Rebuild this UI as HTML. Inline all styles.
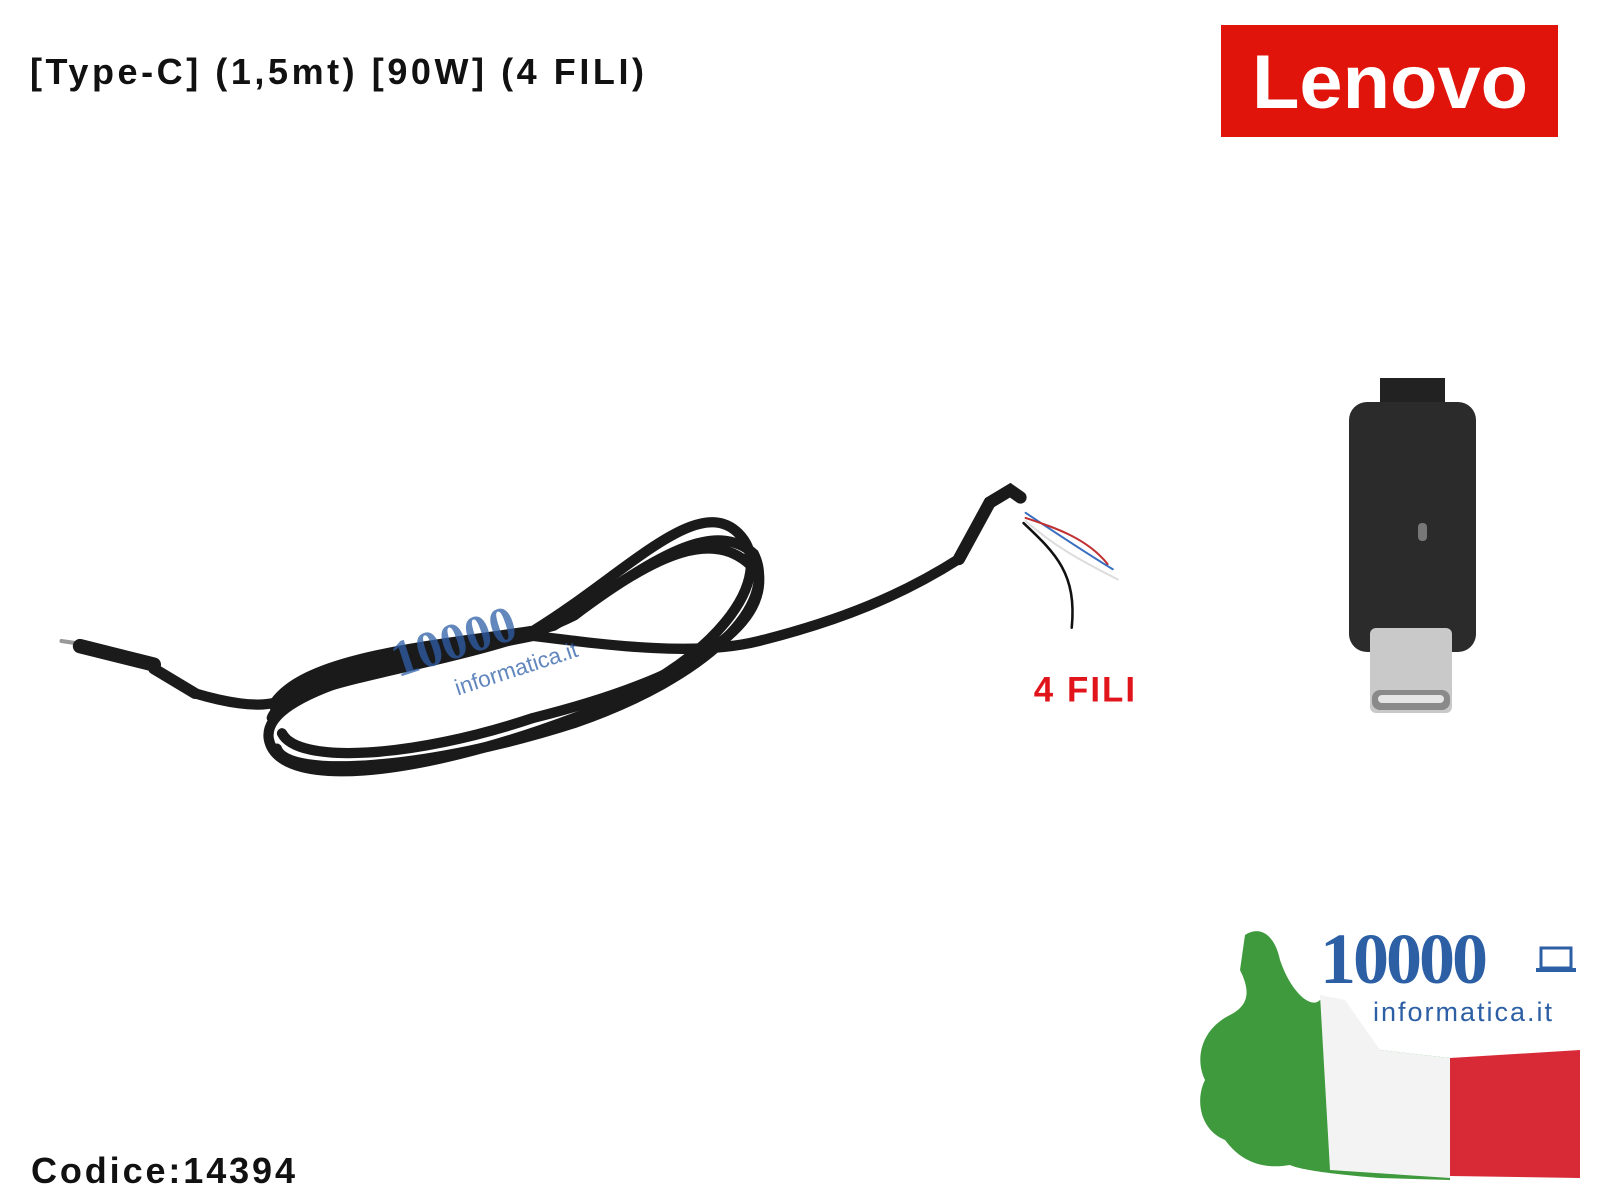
<!DOCTYPE html>
<html><head><meta charset="utf-8"><style>
html,body{margin:0;padding:0;background:#fff;width:1600px;height:1200px;overflow:hidden}
svg{display:block}
</style></head><body>
<svg width="1600" height="1200" viewBox="0 0 1600 1200" xmlns="http://www.w3.org/2000/svg">
<rect width="1600" height="1200" fill="#fff"/>
<text x="30" y="84" font-family="Liberation Sans, sans-serif" font-size="36" font-weight="bold" fill="#111" textLength="614" lengthAdjust="spacing">[Type-C] (1,5mt) [90W] (4 FILI)</text>
<text x="31" y="1183" font-family="Liberation Sans, sans-serif" font-size="36" font-weight="bold" fill="#111" textLength="264" lengthAdjust="spacing">Codice:14394</text>
<rect x="1221" y="25" width="337" height="112" fill="#e0140a"/>
<text x="1252" y="108" font-family="Liberation Sans, sans-serif" font-size="76" font-weight="bold" fill="#fff" textLength="276" lengthAdjust="spacingAndGlyphs">Lenovo</text>

<!-- USB-C plug closeup -->
<rect x="1380" y="378" width="65" height="30" fill="#222"/>
<rect x="1349" y="402" width="127" height="250" rx="18" fill="#2b2b2b"/>
<rect x="1418" y="523" width="9" height="18" rx="4" fill="#777"/>
<rect x="1370" y="628" width="82" height="85" rx="6" fill="#c9c9c9"/>
<rect x="1372" y="690" width="78" height="20" rx="8" fill="#8a8a8a"/>
<rect x="1378" y="695" width="66" height="8" rx="4" fill="#e5e5e5"/>

<!-- cable -->
<g transform="scale(1.0256)" fill="none" stroke-linecap="round">
 <path d="M60 625 L80 628" stroke="#999" stroke-width="4"/>
 <path d="M78 630 L150 648" stroke="#1b1b1b" stroke-width="14"/>
 <path d="M150 652 L190 676" stroke="#1b1b1b" stroke-width="11"/>
 <g stroke="#1a1a1a" stroke-width="10">
  <path d="M190 676 C220 685 250 690 268 685 C300 640 420 630 520 615 C610 560 680 480 720 520 C760 560 700 650 560 700 C400 760 270 770 262 720 C255 670 420 640 520 620"/>
  <path d="M268 690 C300 650 430 640 540 610 C620 560 690 500 735 540 C760 590 690 660 560 705 C420 750 280 760 270 730"/>
  <path d="M265 700 C280 660 460 650 560 600 C640 540 700 510 740 560 C745 610 680 660 520 700 C400 740 290 745 275 715"/>
  <path d="M520 620 C600 630 680 640 740 625 C820 605 880 580 935 545"/>
 </g>
 <path d="M935 545 L965 490 L985 478 L995 485" stroke="#1a1a1a" stroke-width="12"/>
 <path d="M1000 500 C1030 520 1060 540 1085 555" stroke="#3a6fc0" stroke-width="2"/>
 <path d="M1000 505 C1030 515 1060 525 1080 550" stroke="#c03030" stroke-width="2"/>
 <path d="M1000 508 C1025 530 1050 545 1090 565" stroke="#ddd" stroke-width="2"/>
 <path d="M998 510 C1030 540 1050 560 1045 612" stroke="#111" stroke-width="2.5"/>
 <text x="1008" y="684" font-family="Liberation Sans, sans-serif" font-size="34" font-weight="bold" fill="#e0141a" stroke="none" letter-spacing="2">4 FILI</text>
 <g transform="rotate(-18 480 620)" opacity="0.75">
  <text x="380" y="630" font-family="Liberation Serif, serif" font-size="50" font-weight="bold" fill="#2e5fa8">10000</text>
  <text x="430" y="665" font-family="Liberation Sans, sans-serif" font-size="22" fill="#2e5fa8">informatica.it</text>
 </g>
</g>

<!-- thumbs up flag -->
<path d="M1245 935 C1260 925 1275 935 1280 960 C1290 990 1310 1010 1320 1000 L1340 1000 L1380 1050 L1450 1058 L1450 1180 L1380 1178 C1340 1175 1300 1170 1290 1165 C1260 1170 1240 1160 1225 1140 C1200 1130 1195 1100 1205 1080 C1195 1060 1200 1030 1230 1015 C1250 1005 1250 990 1240 970 Z" fill="#3e9a3c"/>
<path d="M1320 995 L1345 1000 L1380 1050 L1450 1058 L1450 1178 L1330 1170 Z" fill="#f3f3f3"/>
<path d="M1450 1058 L1580 1050 L1580 1178 L1450 1176 Z" fill="#d82a36"/>
<text x="1320" y="983" font-family="Liberation Serif, serif" font-size="72" font-weight="bold" fill="#2d5fa5" letter-spacing="-3">10000</text>
<rect x="1541" y="948" width="30" height="20" fill="none" stroke="#2d5fa5" stroke-width="3"/>
<rect x="1536" y="968" width="40" height="4" fill="#2d5fa5"/>
<text x="1373" y="1021" font-family="Liberation Sans, sans-serif" font-size="27" fill="#2d5fa5" letter-spacing="2">informatica.it</text>
</svg>
</body></html>
